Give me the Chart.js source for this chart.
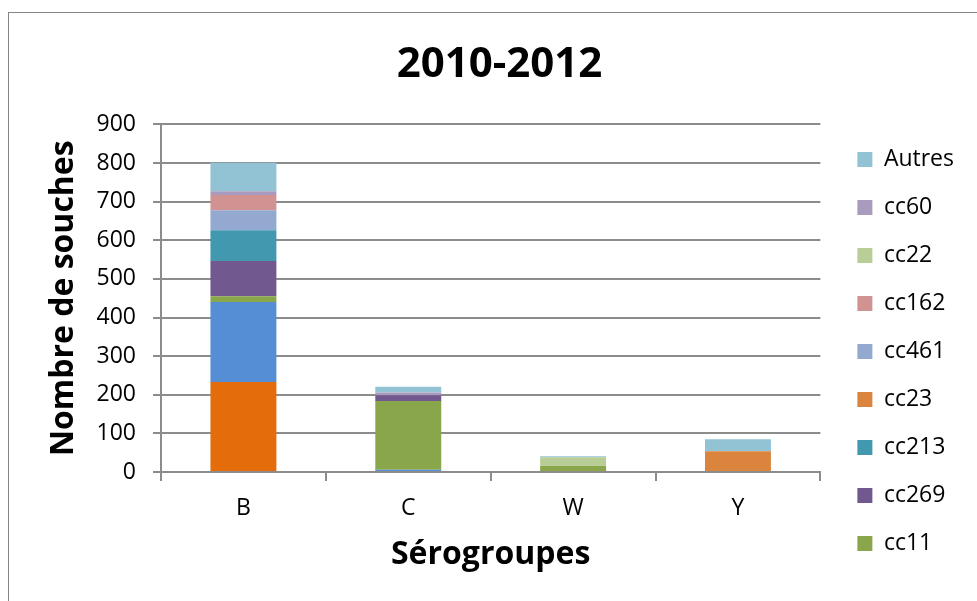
<!DOCTYPE html>
<html>
<head>
<meta charset="utf-8">
<script src="https://cdn.jsdelivr.net/npm/chart.js@4.4.0/dist/chart.umd.min.js"></script>
<style>
    html, body { margin: 0; padding: 0; background: #fff; }
    body { width: 977px; height: 601px; overflow: hidden; position: relative; }
    #cadre { position: absolute; left: 8px; top: 12px; width: 1100px; height: 800px; border: 1px solid #868686; }
    #chart { position: absolute; left: 0; top: 0; }
</style>
</head>
<body>
<div id="cadre"></div>
<canvas id="chart" width="1002" height="700"></canvas>
<script>
// Sérogroupes (axe X)
const serogroupes = ['B', 'C', 'W', 'Y'];

// Nombre de souches par complexe clonal, empilés de bas en haut
const cc32 = [233, 0, 0, 0];
const cc4144 = [207, 6, 0, 0];
const cc11 = [15, 178, 16, 0];
const cc269 = [91, 15, 0, 0];
const cc213 = [80, 0, 0, 0];
const cc23 = [0, 0, 0, 54];
const cc461 = [52, 0, 0, 0];
const cc162 = [39, 0, 0, 0];
const cc22 = [0, 0, 22, 0];
const cc60 = [10, 7, 0, 0];
const autres = [74, 15, 3, 31];

const yTicks = [0, 100, 200, 300, 400, 500, 600, 700, 800, 900];

// complexes absents de la légende (elle est tronquée)
const horsLegende = ['cc32', 'cc41/44'];

Chart.defaults.font.family = "'Open Sans', sans-serif";
Chart.defaults.color = '#000';

const grisAxe = '#8c8c8c';

const ctx = document.getElementById('chart').getContext('2d');
new Chart(ctx, {
    type: 'bar',
    data: {
        labels: serogroupes,
        datasets: [
            { label: 'cc32', data: cc32, backgroundColor: '#E46C0A' },
            { label: 'cc41/44', data: cc4144, backgroundColor: '#558ED5' },
            { label: 'cc11', data: cc11, backgroundColor: '#8AA64B' },
            { label: 'cc269', data: cc269, backgroundColor: '#71588F' },
            { label: 'cc213', data: cc213, backgroundColor: '#4198AF' },
            { label: 'cc23', data: cc23, backgroundColor: '#DB843D' },
            { label: 'cc461', data: cc461, backgroundColor: '#93A9CF' },
            { label: 'cc162', data: cc162, backgroundColor: '#D19392' },
            { label: 'cc22', data: cc22, backgroundColor: '#B9CD96' },
            { label: 'cc60', data: cc60, backgroundColor: '#A99BBD' },
            { label: 'Autres', data: autres, backgroundColor: '#92C3D4' }
        ]
    },
    options: {
        responsive: false,
        animation: false,
        devicePixelRatio: 1,
        categoryPercentage: 1,
        barPercentage: 0.4,
        layout: {
            padding: { top: 40, left: 35, right: 38, bottom: 120 }
        },
        plugins: {
            title: {
                display: true,
                text: '2010-2012',
                font: { size: 42, weight: 'bold' },
                padding: { top: 0, bottom: 34 }
            },
            legend: {
                position: 'right',
                align: 'end',
                reverse: true,
                labels: {
                    boxWidth: 15,
                    boxHeight: 15,
                    padding: 25,
                    font: { size: 23 },
                    filter: item => !horsLegende.includes(item.text)
                }
            },
            tooltip: { enabled: false }
        },
        scales: {
            x: {
                stacked: true,
                grid: {
                    offset: true,
                    drawOnChartArea: false,
                    drawTicks: true,
                    tickLength: 9,
                    color: grisAxe,
                    lineWidth: 2
                },
                border: { color: grisAxe, width: 2 },
                ticks: { font: { size: 23 }, padding: 14 },
                title: {
                    display: true,
                    text: 'Sérogroupes',
                    font: { size: 32, weight: 'bold' },
                    padding: { top: -1, bottom: 6 }
                }
            },
            y: {
                stacked: true,
                min: 0,
                max: 900,
                afterBuildTicks: scale => {
                    scale.ticks = yTicks.map(v => ({ value: v }));
                },
                afterFit: scale => { scale.width = 126; },
                grid: {
                    color: grisAxe,
                    lineWidth: 2,
                    tickLength: 8
                },
                border: { color: grisAxe, width: 2 },
                ticks: { font: { size: 23 }, padding: 17 },
                title: {
                    display: true,
                    text: 'Nombre de souches',
                    font: { size: 32, weight: 'bold' },
                    padding: { top: 10, bottom: 12 }
                }
            },
            // marge entre la zone de tracé et la légende
            marge: {
                type: 'linear',
                position: 'right',
                display: true,
                grid: { display: false },
                border: { display: false },
                ticks: { display: false },
                afterFit: scale => { scale.width = 12; }
            }
        }
    }
});
</script>
</body>
</html>
